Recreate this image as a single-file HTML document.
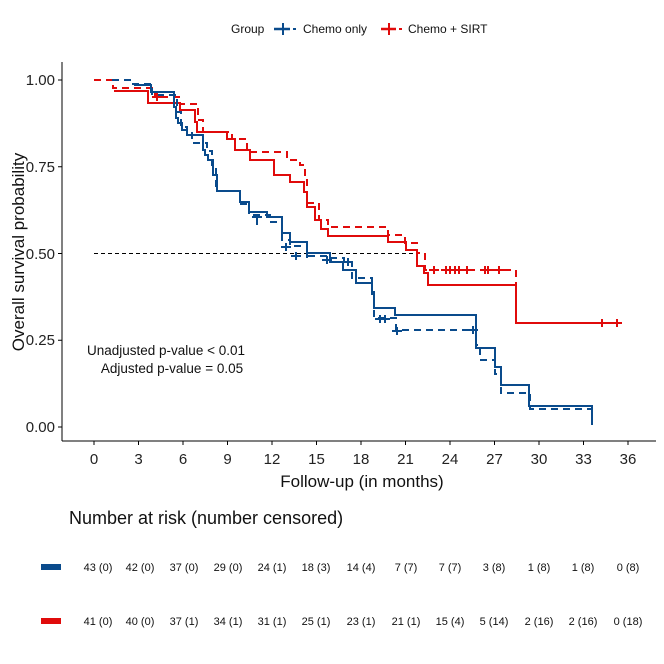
<!DOCTYPE html>
<html><head><meta charset="utf-8"><style>
body{margin:0;background:#fff;}
svg{display:block;font-family:"Liberation Sans",Arial,sans-serif;}
</style></head><body>
<svg width="664" height="664" viewBox="0 0 664 664" xmlns="http://www.w3.org/2000/svg">
<rect width="664" height="664" fill="#fff"/>
<!-- legend -->
<text x="231" y="33" font-size="12" fill="#111">Group</text>
<line x1="274" y1="29" x2="290" y2="29" stroke="#0a4b8c" stroke-width="2.5"/>
<line x1="283" y1="23" x2="283" y2="35" stroke="#0a4b8c" stroke-width="2"/>
<line x1="293" y1="29" x2="296" y2="29" stroke="#0a4b8c" stroke-width="2"/>
<text x="303" y="33" font-size="12" fill="#111">Chemo only</text>
<line x1="381" y1="29" x2="396" y2="29" stroke="#e00b0b" stroke-width="2.5"/>
<line x1="389" y1="23" x2="389" y2="35" stroke="#e00b0b" stroke-width="2"/>
<line x1="399" y1="29" x2="402" y2="29" stroke="#e00b0b" stroke-width="2"/>
<text x="408" y="33" font-size="12" fill="#111">Chemo + SIRT</text>
<!-- axes -->
<line x1="62" y1="62" x2="62" y2="441" stroke="#000" stroke-width="1"/>
<line x1="62" y1="441" x2="656" y2="441" stroke="#000" stroke-width="1"/>
<g stroke="#000">
<line x1="58" y1="80" x2="62" y2="80"/><line x1="58" y1="166.75" x2="62" y2="166.75"/>
<line x1="58" y1="253.5" x2="62" y2="253.5"/><line x1="58" y1="340.25" x2="62" y2="340.25"/>
<line x1="58" y1="427" x2="62" y2="427"/>
</g>
<g font-size="15" fill="#222" text-anchor="end">
<text x="55" y="85">1.00</text><text x="55" y="172">0.75</text><text x="55" y="259">0.50</text>
<text x="55" y="345">0.25</text><text x="55" y="432">0.00</text>
</g>
<g stroke="#000">
<line x1="94" y1="441" x2="94" y2="445"/><line x1="138.5" y1="441" x2="138.5" y2="445"/>
<line x1="183" y1="441" x2="183" y2="445"/><line x1="227.5" y1="441" x2="227.5" y2="445"/>
<line x1="272" y1="441" x2="272" y2="445"/><line x1="316.5" y1="441" x2="316.5" y2="445"/>
<line x1="361" y1="441" x2="361" y2="445"/><line x1="405.5" y1="441" x2="405.5" y2="445"/>
<line x1="450" y1="441" x2="450" y2="445"/><line x1="494.5" y1="441" x2="494.5" y2="445"/>
<line x1="539" y1="441" x2="539" y2="445"/><line x1="583.5" y1="441" x2="583.5" y2="445"/>
<line x1="628" y1="441" x2="628" y2="445"/>
</g>
<g font-size="15" fill="#222" text-anchor="middle">
<text x="94" y="464">0</text><text x="138.5" y="464">3</text><text x="183" y="464">6</text>
<text x="227.5" y="464">9</text><text x="272" y="464">12</text><text x="316.5" y="464">15</text>
<text x="361" y="464">18</text><text x="405.5" y="464">21</text><text x="450" y="464">24</text>
<text x="494.5" y="464">27</text><text x="539" y="464">30</text><text x="583.5" y="464">33</text>
<text x="628" y="464">36</text>
</g>
<text x="362" y="487" font-size="17" text-anchor="middle" fill="#111">Follow-up (in months)</text>
<text transform="translate(24,252) rotate(-90)" font-size="17" text-anchor="middle" fill="#111">Overall survival probability</text>
<!-- median line -->
<line x1="94" y1="253.5" x2="420" y2="253.5" stroke="#000" stroke-width="1" stroke-dasharray="4,3"/>
<!-- red dashed -->
<polyline fill="none" stroke="#e00b0b" stroke-width="2" stroke-dasharray="7,5"
points="94,80 113,80 113,88 155,88 155,97 180,97 180,104 198,104 198,120 203,120 203,132 232,132 232,139 247,139 247,152 287,152 287,160 300,160 300,165 305,165 305,180 307,180 307,203 319,203 319,220 328,220 328,227 388,227 388,235 405,235 405,243 417,243 417,253 425,253 425,270 516,270 516,323 620,323"/>
<!-- red solid -->
<polyline fill="none" stroke="#e00b0b" stroke-width="2"
points="114,91 148,91 148,103 180,103 180,110 195,110 195,122 197,122 197,132 227,132 227,139 235,139 235,150 250,150 250,160 274,160 274,175 290,175 290,182 304,182 304,192 307,192 307,207 315,207 315,220 321,220 321,229 328,229 328,236 388,236 388,242 406,242 406,250 417,250 417,266 424,266 424,273 428,273 428,285 516,285 516,323 620,323"/>
<!-- blue dashed -->
<polyline fill="none" stroke="#0a4b8c" stroke-width="2" stroke-dasharray="7,5"
points="112,80 132,80 132,84 152,84 152,95 177,95 177,112 181,112 181,127 187,127 187,133 192,133 192,143 207,143 207,151 212,151 212,165 216,165 216,191 240,191 240,204 249,204 249,215 270,215 270,222 282,222 282,240 290,240 290,246 307,246 307,256 330,256 330,258 344,258 344,262 352,262 352,278 372,278 372,296 374,296 374,318 396,318 396,330 476,330 476,345 480,345 480,360 495,360 495,374 501,374 501,393 530,393 530,409 592,409"/>
<!-- blue solid -->
<polyline fill="none" stroke="#0a4b8c" stroke-width="2"
points="134,85 151,85 151,92 174,92 174,107 176,107 176,118 178,118 178,123 182,123 182,130 187,130 187,135 203,135 203,150 205,150 205,155 208,155 208,160 213,160 213,175 217,175 217,191 240,191 240,202 249,202 249,212 267,212 267,217 282,217 282,233 290,233 290,242 307,242 307,258 307,253 330,253 330,262 343,262 343,270 356,270 356,283 372,283 372,292 374,292 374,308 395,308 395,315 476,315 476,348 495,348 495,367 501,367 501,385 529,385 529,406 592,406 592,425"/>
<!-- censor marks -->
<g stroke="#0a4b8c" stroke-width="2">
<path d="M257,217v8M286,243v8M296,252v8M327,256v8M348,258v8M380,315v8M385,315v8M397,327v8M473,326v8"/>
<path d="M252,217h10M281,247h10M291,256h10M322,260h10M343,262h10M375,319h10M380,319h10M392,331h10M468,330h10"/>
</g>
<g stroke="#e00b0b" stroke-width="2">
<path d="M157,93v8M434,266v8M446,266v8M450,266v8M455,266v8M459,266v8M467,266v8M485,266v8M488,266v8M499,266v8M602,319v8M617,319v8"/>
<path d="M152,97h10M429,270h10M441,270h10M445,270h10M450,270h10M454,270h10M462,270h10M480,270h10M484,270h10M494,270h10M597,323h10M612,323h10"/>
</g>
<!-- p-values -->
<text x="166" y="355" font-size="13.5" text-anchor="middle" fill="#111">Unadjusted p-value &lt; 0.01</text>
<text x="172" y="373" font-size="13.5" text-anchor="middle" fill="#111">Adjusted p-value = 0.05</text>
<!-- risk table -->
<text x="69" y="524" font-size="18" fill="#111">Number at risk (number censored)</text>
<rect x="41" y="564" width="20" height="6" fill="#0a4b8c"/>
<rect x="41" y="618" width="20" height="6" fill="#e00b0b"/>
<g font-size="11" fill="#111" text-anchor="middle">
<text x="98" y="571">43 (0)</text><text x="140" y="571">42 (0)</text><text x="184" y="571">37 (0)</text>
<text x="228" y="571">29 (0)</text><text x="272" y="571">24 (1)</text><text x="316" y="571">18 (3)</text>
<text x="361" y="571">14 (4)</text><text x="406" y="571">7 (7)</text><text x="450" y="571">7 (7)</text>
<text x="494" y="571">3 (8)</text><text x="539" y="571">1 (8)</text><text x="583" y="571">1 (8)</text>
<text x="628" y="571">0 (8)</text>
<text x="98" y="625">41 (0)</text><text x="140" y="625">40 (0)</text><text x="184" y="625">37 (1)</text>
<text x="228" y="625">34 (1)</text><text x="272" y="625">31 (1)</text><text x="316" y="625">25 (1)</text>
<text x="361" y="625">23 (1)</text><text x="406" y="625">21 (1)</text><text x="450" y="625">15 (4)</text>
<text x="494" y="625">5 (14)</text><text x="539" y="625">2 (16)</text><text x="583" y="625">2 (16)</text>
<text x="628" y="625">0 (18)</text>
</g>
</svg>
</body></html>
